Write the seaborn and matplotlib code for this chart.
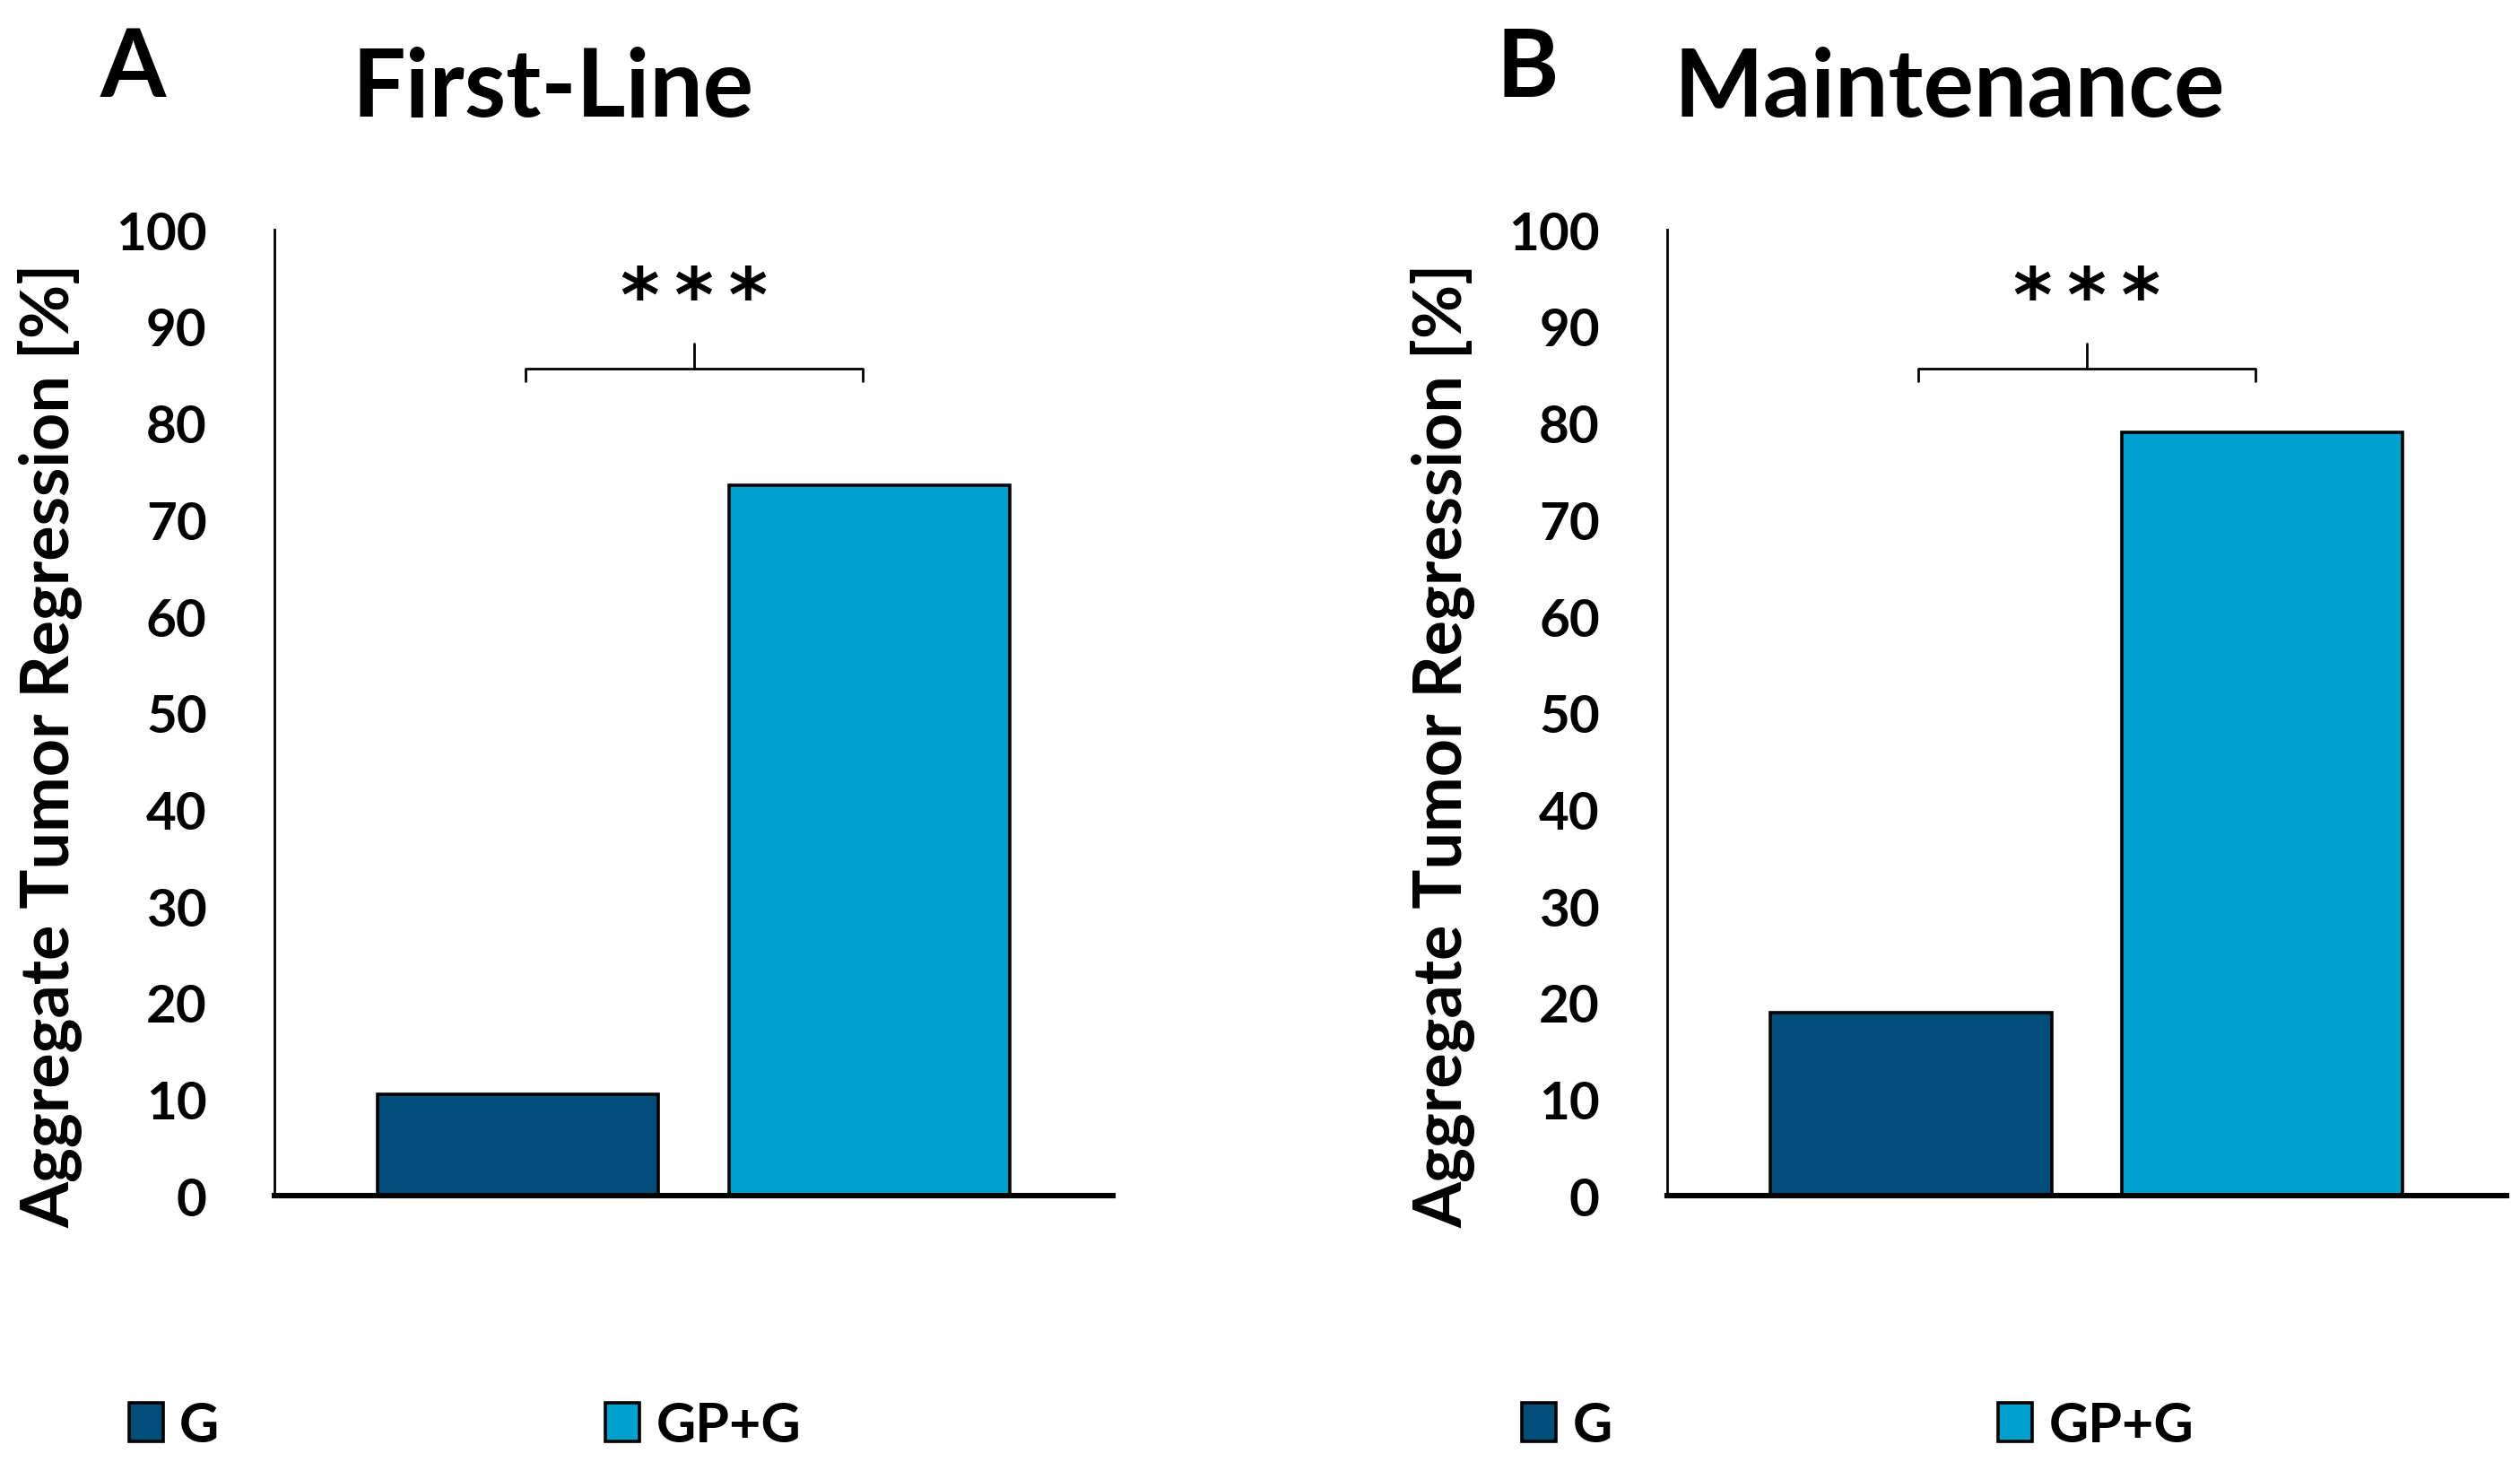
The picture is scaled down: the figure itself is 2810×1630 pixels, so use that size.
import matplotlib
matplotlib.use('Agg')
import pandas as pd
import matplotlib.pyplot as plt
import seaborn as sns
from matplotlib.patches import Patch

# data
groups = ['G', 'GP+G']
first_line = [10.5, 73.6]
maintenance = [19.0, 79.0]
panel_titles = ['First-Line', 'Maintenance']
panel_letters = ['A', 'B']
sig_labels = ['*\u2009*\u2009*', '*\u2009*\u2009*']
colors = ['#004D7A', '#00A0CE']

sns.set_theme(style='white')
plt.rcParams['font.family'] = ['Lato', 'DejaVu Sans']
plt.rcParams['font.weight'] = 'bold'
plt.rcParams['text.color'] = 'black'
plt.rcParams['axes.labelcolor'] = 'black'
plt.rcParams['ytick.color'] = 'black'

fig = plt.figure(figsize=(14.05, 8.155), dpi=200)

lefts = [0.1088, 0.6615]
width = 0.333
bottom = 0.1819
height = 0.6604

title_x = [343 / 1563, 1209 / 1563]
letter_x = [62 / 1563, 928 / 1563]
legend_x = [80 / 1563, 944 / 1563]

for i, vals in enumerate([first_line, maintenance]):
    df = pd.DataFrame({'group': groups, 'value': vals})
    ax = fig.add_axes([lefts[i], bottom, width, height])
    sns.barplot(data=df, x='group', y='value', hue='group', palette=colors,
                saturation=1, width=0.8, edgecolor='black', linewidth=1.3,
                legend=False, ax=ax)
    ax.set_ylim(0, 100)
    ax.set_xlim(-0.695, 1.695)
    ax.set_yticks(range(0, 101, 10))
    ax.tick_params(axis='y', labelsize=21, length=0, pad=27, labelcolor='black')
    ax.set_xticks([])
    ax.set_xlabel('')
    ax.set_ylabel('Aggregate Tumor Regression [%]', fontsize=26.5,
                  fontweight='bold', color='black')
    ax.yaxis.set_label_coords(-0.228, 0.467)
    for lab in ax.get_yticklabels():
        lab.set_fontweight('bold')
    for s in ['top', 'right']:
        ax.spines[s].set_visible(False)
    ax.spines['left'].set_color('black')
    ax.spines['left'].set_linewidth(1.0)
    ax.spines['bottom'].set_color('black')
    ax.spines['bottom'].set_linewidth(2.2)

    # significance bracket
    x0, x1 = 0.02, 0.98
    ax.plot([x0, x0, x1, x1], [84.3, 85.6, 85.6, 84.3], color='black', lw=1.0,
            clip_on=False)
    ax.plot([0.5, 0.5], [85.6, 88.2], color='black', lw=1.0, clip_on=False)
    ax.text(0.5, 92.8, sig_labels[i], ha='center', va='center', fontsize=30,
            fontweight='bold', family='DejaVu Sans', color='black')

    fig.text(title_x[i], 0.92, panel_titles[i], ha='center', va='baseline',
             fontsize=38, fontweight='bold', color='black')
    fig.text(letter_x[i], 0.934, panel_letters[i], ha='left', va='baseline',
             fontsize=38, fontweight='bold', color='black')

    handles = [Patch(facecolor=c, edgecolor='black', linewidth=1.3) for c in colors]
    leg = fig.legend(handles, groups, loc='center left',
                     bbox_to_anchor=(legend_x[i], 0.025), ncol=2, frameon=False,
                     prop={'weight': 'bold', 'size': 22},
                     handlelength=0.62, handleheight=0.7, handletextpad=0.3,
                     columnspacing=7.05, borderpad=0, borderaxespad=0)
    for t in leg.get_texts():
        t.set_color('black')

fig.savefig('out.png', dpi=200, facecolor='white')
